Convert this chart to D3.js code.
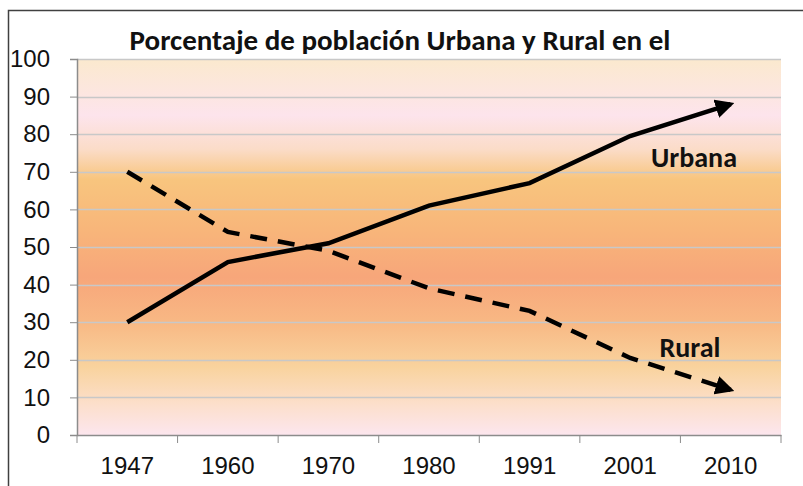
<!DOCTYPE html>
<html>
<head>
<meta charset="utf-8">
<script src="https://cdn.jsdelivr.net/npm/d3@7"></script>
<style>
  body { margin: 0; background: #fff; }
  svg { display: block; font-family: Carlito, Lato, "Open Sans", sans-serif; }
</style>
</head>
<body>
<svg width="803" height="486"></svg>
<script>
const years = ['1947', '1960', '1970', '1980', '1991', '2001', '2010'];
const urbana = [30, 46, 51, 61, 67, 79.5, 88];
const rural = [70, 54, 49, 39, 33, 20.5, 12];
const yTicks = [0, 10, 20, 30, 40, 50, 60, 70, 80, 90, 100];

const svg = d3.select('svg');
const margin = { top: 59, right: 22, bottom: 51, left: 77 };
const width = 803 - margin.left - margin.right;
const height = 486 - margin.top - margin.bottom;

// outer frame (only top and left edges show)
svg.append('path')
    .attr('d', 'M8.5,486 V10.5 H803')
    .attr('fill', 'none')
    .attr('stroke', '#404040')
    .attr('stroke-width', 1.5);

svg.append('text')
    .attr('x', 400)
    .attr('y', 50)
    .attr('text-anchor', 'middle')
    .attr('font-size', 29)
    .attr('font-weight', 'bold')
    .attr('fill', '#111')
    .text('Porcentaje de población Urbana y Rural en el');

const defs = svg.append('defs');
const grad = defs.append('linearGradient')
    .attr('id', 'bg')
    .attr('x1', 0).attr('y1', 0).attr('x2', 0).attr('y2', 1);
[
    [0, '#fbe9ce'], [0.15, '#fde4ec'], [0.24, '#fbdcc8'], [0.32, '#f8c57e'],
    [0.45, '#f8b67a'], [0.58, '#f7a67a'], [0.7, '#f8b884'], [0.82, '#f9d39e'],
    [0.92, '#fcdfcc'], [1, '#fce6ee']
].forEach(([o, c]) => grad.append('stop').attr('offset', o).attr('stop-color', c));

const arrowDef = defs.append('marker')
    .attr('id', 'arrow')
    .attr('viewBox', '0 0 10 10')
    .attr('refX', 8).attr('refY', 5)
    .attr('markerWidth', 4.2).attr('markerHeight', 4.2)
    .attr('orient', 'auto')
    .attr('markerUnits', 'strokeWidth');
arrowDef.append('path').attr('d', 'M0,0 L10,5 L0,10 Z').attr('fill', '#000');

const g = svg.append('g').attr('transform', `translate(${margin.left},${margin.top})`);

const x = d3.scaleBand().domain(years).range([0, width]);
const y = d3.scaleLinear().domain([0, 100]).range([height, 0]);

g.append('rect')
    .attr('width', width)
    .attr('height', height)
    .attr('fill', 'url(#bg)');

g.append('g')
    .selectAll('line')
    .data(yTicks.slice(1))
    .join('line')
    .attr('x1', 0).attr('x2', width)
    .attr('y1', d => Math.round(y(d)) + 0.5).attr('y2', d => Math.round(y(d)) + 0.5)
    .attr('stroke', '#c8c8c8')
    .attr('stroke-width', 1.5);

const yAxis = g.append('g')
    .call(d3.axisLeft(y).tickValues(yTicks).tickSize(7).tickPadding(20));
yAxis.selectAll('.tick text').attr('font-size', 24).attr('fill', '#111');

const xAxis = g.append('g')
    .attr('transform', `translate(0,${height})`)
    .call(d3.axisBottom(x).tickSize(0).tickPadding(22));
xAxis.selectAll('.tick text').attr('font-size', 24).attr('fill', '#111');
xAxis.selectAll('.bound')
    .data(d3.range(years.length + 1))
    .join('line')
    .attr('x1', i => i * x.bandwidth()).attr('x2', i => i * x.bandwidth())
    .attr('y1', 0).attr('y2', 8)
    .attr('stroke', '#8c8c8c');
g.selectAll('.domain').attr('stroke', '#8c8c8c').attr('stroke-width', 1.5);
yAxis.selectAll('.tick line').attr('stroke', '#8c8c8c');

const line = d3.line()
    .x((d, i) => x(years[i]) + x.bandwidth() / 2)
    .y(d => y(d));

g.append('path')
    .datum(urbana)
    .attr('d', line)
    .attr('fill', 'none')
    .attr('stroke', '#000')
    .attr('stroke-width', 4.5)
    .attr('marker-end', 'url(#arrow)');

g.append('path')
    .datum(rural)
    .attr('d', line)
    .attr('fill', 'none')
    .attr('stroke', '#000')
    .attr('stroke-width', 4.5)
    .attr('stroke-dasharray', '17,11')
    .attr('marker-end', 'url(#arrow)');

svg.append('text')
    .attr('x', 694).attr('y', 167)
    .attr('text-anchor', 'middle')
    .attr('font-size', 28).attr('font-weight', 'bold').attr('fill', '#111')
    .text('Urbana');

svg.append('text')
    .attr('x', 690).attr('y', 357)
    .attr('text-anchor', 'middle')
    .attr('font-size', 28).attr('font-weight', 'bold').attr('fill', '#111')
    .text('Rural');
</script>
</body>
</html>
